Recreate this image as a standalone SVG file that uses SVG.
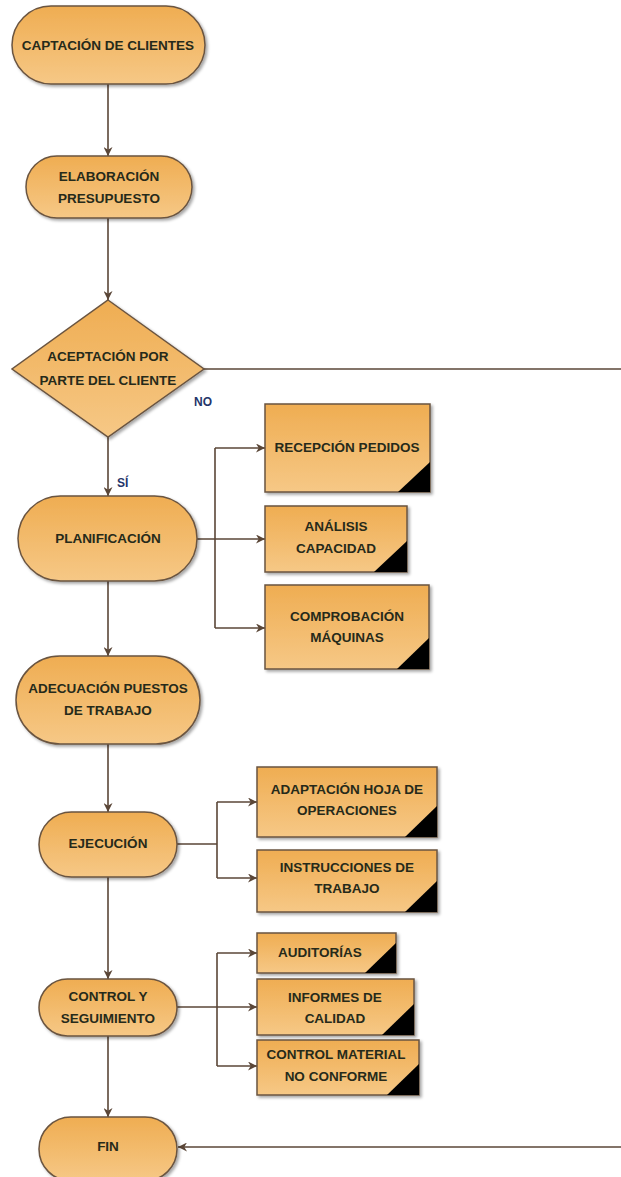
<svg xmlns="http://www.w3.org/2000/svg" width="621" height="1177" viewBox="0 0 621 1177">
<style>
.n{fill:url(#g);stroke:#6a5440;stroke-width:1.5;filter:url(#sh)}
.t{font-family:"Liberation Sans",Arial,sans-serif;font-weight:bold;font-size:13.5px;fill:#262a1a;text-anchor:middle}
.lb{font-family:"Liberation Sans",Arial,sans-serif;font-weight:bold;font-size:12px;fill:#24356a}
.c{fill:none;stroke:#5a4637;stroke-width:1.6}
.a{marker-end:url(#ar)}
.tri{fill:#000}
</style>
<defs>
<linearGradient id="g" x1="0" y1="0" x2="0" y2="1">
<stop offset="0" stop-color="#EFAD52"/>
<stop offset="1" stop-color="#F6C886"/>
</linearGradient>
<filter id="sh" x="-10%" y="-10%" width="125%" height="130%">
<feDropShadow dx="2" dy="2" stdDeviation="1.5" flood-color="#000" flood-opacity="0.35"/>
</filter>
<marker id="ar" viewBox="0 0 10 10" refX="10" refY="5" markerWidth="9" markerHeight="9" markerUnits="userSpaceOnUse" orient="auto">
<path d="M0,0 L10,5 L0,10 L3,5 Z" fill="#5a4637"/>
</marker>
</defs>
<g id="connectors">
<path class="c a" d="M108,84 V156"/>
<path class="c a" d="M108,218 V300"/>
<path class="c" d="M204,369 H621"/>
<path class="c a" d="M621,1147 H178"/>
<path class="c a" d="M108,437 V496"/>
<path class="c" d="M197,539 H215 M215,448 V628"/>
<path class="c a" d="M215,448 H265"/>
<path class="c a" d="M215,539 H265"/>
<path class="c a" d="M215,628 H265"/>
<path class="c a" d="M108,581 V656"/>
<path class="c a" d="M108,744 V812"/>
<path class="c" d="M177,844 H217 M217,802 V878"/>
<path class="c a" d="M217,802 H257"/>
<path class="c a" d="M217,878 H257"/>
<path class="c a" d="M108,877 V979"/>
<path class="c" d="M217,953 V1066"/>
<path class="c a" d="M217,953 H257"/>
<path class="c a" d="M177,1007 H257"/>
<path class="c a" d="M217,1066 H257"/>
<path class="c a" d="M108,1036 V1117"/>
</g>
<g id="captacion">
<rect class="n" x="12" y="6" width="193" height="78" rx="39"/>
<text class="t" x="108" y="50">CAPTACIÓN DE CLIENTES</text>
</g>
<g id="elaboracion">
<rect class="n" x="26" y="156" width="166" height="62" rx="31"/>
<text class="t" x="109" y="181">ELABORACIÓN</text>
<text class="t" x="109" y="203">PRESUPUESTO</text>
</g>
<g id="aceptacion">
<polygon class="n" points="108,300 204,369 108,437 12,369"/>
<text class="t" x="108" y="361">ACEPTACIÓN POR</text>
<text class="t" x="108" y="385">PARTE DEL CLIENTE</text>
</g>
<text class="lb" x="194" y="406">NO</text>
<text class="lb" x="117" y="487">SÍ</text>
<g id="planificacion">
<rect class="n" x="18" y="496" width="179" height="85" rx="42.5"/>
<text class="t" x="108" y="543">PLANIFICACIÓN</text>
</g>
<g id="adecuacion">
<rect class="n" x="16" y="656" width="184" height="88" rx="44"/>
<text class="t" x="108" y="693">ADECUACIÓN PUESTOS</text>
<text class="t" x="108" y="715">DE TRABAJO</text>
</g>
<g id="ejecucion">
<rect class="n" x="39" y="812" width="138" height="65" rx="32.5"/>
<text class="t" x="108" y="848">EJECUCIÓN</text>
</g>
<g id="control">
<rect class="n" x="39" y="979" width="138" height="57" rx="28.5"/>
<text class="t" x="108" y="1001">CONTROL Y</text>
<text class="t" x="108" y="1023">SEGUIMIENTO</text>
</g>
<g id="fin">
<rect class="n" x="39" y="1117" width="138" height="64" rx="32"/>
<text class="t" x="108" y="1151">FIN</text>
</g>
<g id="recepcion">
<rect class="n" x="265" y="404" width="165" height="88"/>
<polygon class="tri" points="430,462 430,492 398,492"/>
<text class="t" x="347" y="452">RECEPCIÓN PEDIDOS</text>
</g>
<g id="analisis">
<rect class="n" x="265" y="506" width="142" height="66"/>
<polygon class="tri" points="407,541 407,572 374,572"/>
<text class="t" x="336" y="531">ANÁLISIS</text>
<text class="t" x="336" y="553">CAPACIDAD</text>
</g>
<g id="comprobacion">
<rect class="n" x="265" y="585" width="164" height="84"/>
<polygon class="tri" points="429,638 429,669 397,669"/>
<text class="t" x="347" y="621">COMPROBACIÓN</text>
<text class="t" x="347" y="642">MÁQUINAS</text>
</g>
<g id="adaptacion">
<rect class="n" x="257" y="767" width="180" height="70"/>
<polygon class="tri" points="437,806 437,837 405,837"/>
<text class="t" x="347" y="794">ADAPTACIÓN HOJA DE</text>
<text class="t" x="347" y="815">OPERACIONES</text>
</g>
<g id="instrucciones">
<rect class="n" x="257" y="850" width="180" height="62"/>
<polygon class="tri" points="437,881 437,912 405,912"/>
<text class="t" x="347" y="872">INSTRUCCIONES DE</text>
<text class="t" x="347" y="893">TRABAJO</text>
</g>
<g id="auditorias">
<rect class="n" x="257" y="933" width="139" height="40"/>
<polygon class="tri" points="396,943 396,973 365,973"/>
<text class="t" x="320" y="957">AUDITORÍAS</text>
</g>
<g id="informes">
<rect class="n" x="257" y="979" width="157" height="56"/>
<polygon class="tri" points="414,1004 414,1035 382,1035"/>
<text class="t" x="335" y="1002">INFORMES DE</text>
<text class="t" x="335" y="1023">CALIDAD</text>
</g>
<g id="material">
<rect class="n" x="257" y="1040" width="162" height="55"/>
<polygon class="tri" points="419,1064 419,1095 387,1095"/>
<text class="t" x="336" y="1059">CONTROL MATERIAL</text>
<text class="t" x="336" y="1081">NO CONFORME</text>
</g>
</svg>
